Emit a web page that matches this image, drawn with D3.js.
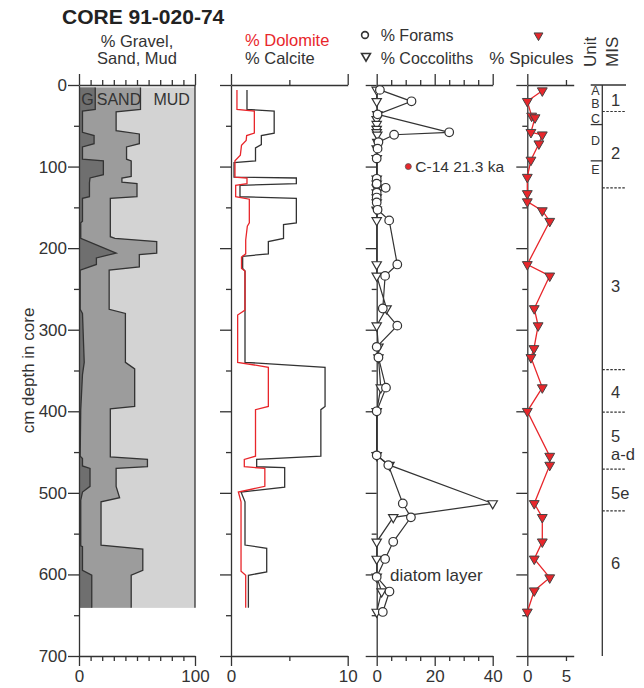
<!DOCTYPE html>
<html>
<head>
<meta charset="utf-8">
<script src="https://cdn.jsdelivr.net/npm/d3@7"></script>
<style>
  body { margin: 0; background: #fff; }
  svg { display: block; font-family: "Liberation Sans", Arial, Helvetica, sans-serif; }
</style>
</head>
<body>
<div id="wrapper"></div>
<script>
// ---- data (depth in cm) ----
const coreInterval = [3, 641]

// grain size: gravel boundary and gravel+sand boundary (cumulative %)
const gravelDepth = [3,30,32,58,62,72,76,91,93,110,114,120,137,139,167,169,188,206,212,220,227,275,280,340,355,398,455,458,467,470,492,499,509,565,566,595,601,641]
const gravelPct = [14,14,3,3,13,13,3,3,21,21,9.5,9,9,3,3,1.5,1.5,32,15,15,1,1,3,4.5,3,1.5,1,3,3,9.5,9.5,3,1.5,1.5,3,3,11,11]
const sandTopDepth = [3,30,33,56,60,72,76,91,93,112,114,119,121,137,139,186,188,192,206,208,223,227,275,280,340,348,394,397,456,459,468,470,492,506,511,564,569,595,601,641]
const gravelSandPct = [53,53,32,32,52,52,41,41,45,45,37,37,50,50,27,27,31,67,67,52,52,26,26,40,40,48,48,27,27,59,59,32,32,35,19,19,55,55,45,45]

// carbonate
const calciteDepth = [6,30,32,59,62,73,77,93,95,113,114,121,123,137,139,169,171,188,192,207,210,225,228,340,346,394,398,455,459,468,469,493,499,511,564,568,597,601,641]
const calcitePct = [1.37,1.37,3.7,3.7,2.6,2.6,2.1,2.1,0.26,0.26,5.6,5.6,0.77,0.77,5.6,5.6,4.5,4.5,3.2,3.2,1.0,1.0,1.2,1.2,8.06,8.06,7.7,7.7,2.2,2.2,4.6,4.6,0.86,1.2,1.2,3.06,3.06,1.49,1.49]
const dolomiteDepth = [6,30,32,59,62,68,74,86,93,113,114,121,123,137,140,169,173,190,207,211,225,228,276,282,340,346,394,398,455,459,468,470,492,499,511,596,601,641]
const dolomitePct = [0.51,0.51,2.0,2.0,1.34,1.3,0.9,0.8,0.34,0.34,1.37,1.37,0.4,0.4,1.57,1.57,1.4,1.26,1.26,0.9,0.9,1.2,1.2,0.57,0.57,3.2,3.2,2.1,2.1,1.14,1.14,2.9,2.9,0.63,0.86,0.86,1.26,1.26]

// forams / coccoliths (null = not plotted)
const microDepth = [6,20,36,42,48,54,58,61,70,78,90,115,121,126,132,138,144,153,166,220,234,274,295,321,334,371,400,454,466,513,530,560,581,603,621,646]
const foramPct = [1.1,12,0.3,null,null,null,25,6,0.6,0.3,0,0,0,3.1,0,0,0,0.3,4.3,7.1,2.9,2.1,7.1,0,0.6,3.2,0,0,4.0,9.0,11.8,5.7,2.9,0,4.4,2.1]
const coccolithPct = [0,0,0.2,0,0,0,0,0.2,0.2,0,0,0,0,0,0,0,0,0,0,0,0,3.4,0,0.6,0.6,1.4,0,0,4.4,40,5.7,0,0,0,1.7,0]

// spicules
const spiculeDepth = [7,20,38,40,58,61,72,92,113,133,143,154,167,220,234,274,295,323,334,371,400,455,466,513,530,560,581,604,620,646]
const spiculePct = [1.94,0,0.56,1.0,0.47,1.94,1.5,0.47,0,0,0,1.94,2.9,0,2.9,0.9,1.4,0.86,0.47,1.94,0,2.9,2.9,0.9,1.94,1.94,0.9,2.9,0.9,0]

// stratigraphy
const unitLabels = ["A","B","C","D","E"]
const unitLabelDepth = [7,23.2,41,68,104]
const unitBounds = [48.5, 93]
const misLabels = ["1","2","3","4","5","a-d","5e","6"]
const misLabelDepth = [19,84,246,376,430,452,500,586]
const misBounds = [32.5,126,349,401,471,522]

// tick labels
const depthMajor = [0,100,200,300,400,500,600,700]
const depthMinor = [50,150,250,350,450,550,650]
const grainMajor = [0,100], grainMinor = [10,20,30,40,50,60,70,80,90]
const carbMajor = [0,10], carbMinor = [5]
const microMajor = [0,20,40], microMinor = [5,10,15,25,30,35]
const spicMajor = [0], spicMinor = [5], spicLabels = [0,5]

const c14 = { depth: 100, value: 10.9, label: "C-14 21.3 ka" }
const diatomNote = { depth: 608, value: 4.6, label: "diatom layer" }

// ---- layout ----
const dimensions = { width: 644, height: 688 }
const ink = "#333"
const red = "#e8262b"

const svg = d3.select("#wrapper").append("svg")
    .attr("width", dimensions.width)
    .attr("height", dimensions.height)

const yScale = d3.scaleLinear().domain([0, 700]).range([85, 656])

const xGrain = d3.scaleLinear().domain([0, 100]).range([79, 195])
const xCarb = d3.scaleLinear().domain([0, 10]).range([231, 347.7])
const xMicro = d3.scaleLinear().domain([0, 40]).range([376.7, 492.7])
const xSpic = d3.scaleLinear().domain([0, 6]).range([527.3, 573.7])

const pts = (depths, vals) => depths.map((d, i) => ({ depth: d, v: vals[i] })).filter(d => d.v != null)

function styleAxis(g) {
    g.attr("font-family", null).attr("font-size", 17).attr("color", ink)
    g.selectAll("line, path").attr("stroke-width", 1.3)
}

function drawAxes(x, majors, minors, labels, yLabels) {
    const x0 = x(0)
    // depth axis
    svg.append("g").attr("transform", `translate(${x0},0)`)
        .call(d3.axisLeft(yScale).tickValues(depthMajor).tickSize(11).tickSizeOuter(0).tickPadding(1)
            .tickFormat(yLabels ? d3.format("d") : ""))
        .call(styleAxis)
    svg.append("g").attr("transform", `translate(${x0},0)`)
        .call(d3.axisLeft(yScale).tickValues(depthMinor).tickSize(5).tickFormat(""))
        .call(styleAxis)
        .call(g => g.select(".domain").remove())
    // top axis
    svg.append("g").attr("transform", `translate(0,${yScale(0)})`)
        .call(d3.axisTop(x).tickValues(majors).tickSize(11).tickSizeOuter(0).tickFormat(""))
        .call(styleAxis)
    svg.append("g").attr("transform", `translate(0,${yScale(0)})`)
        .call(d3.axisTop(x).tickValues(minors).tickSize(5).tickFormat(""))
        .call(styleAxis)
        .call(g => g.select(".domain").remove())
    // bottom axis
    svg.append("g").attr("transform", `translate(0,${yScale(700)})`)
        .call(d3.axisBottom(x).tickValues(majors).tickSize(10).tickSizeOuter(0).tickFormat(""))
        .call(styleAxis)
    svg.append("g").attr("transform", `translate(0,${yScale(700)})`)
        .call(d3.axisBottom(x).tickValues(minors).tickSize(5).tickFormat(""))
        .call(styleAxis)
        .call(g => g.select(".domain").remove())
    svg.append("g").attr("transform", `translate(0,${yScale(700)})`)
        .call(d3.axisBottom(x).tickValues(labels).tickSize(0).tickPadding(14).tickFormat(d3.format("d")))
        .call(styleAxis)
        .call(g => g.select(".domain").remove())
}

// ---- grain size panel ----
svg.append("rect")
    .attr("x", xGrain(0))
    .attr("y", yScale(coreInterval[0]))
    .attr("width", xGrain(100) - xGrain(0))
    .attr("height", yScale(coreInterval[1]) - yScale(coreInterval[0]))
    .attr("fill", "#d3d3d3")

const gravelData = pts(gravelDepth, gravelPct)
const sandData = pts(sandTopDepth, gravelSandPct)
const grainArea = d3.area().y(d => yScale(d.depth)).x0(xGrain(0)).x1(d => xGrain(d.v))
const grainLine = d3.line().y(d => yScale(d.depth)).x(d => xGrain(d.v))

svg.append("path").datum(sandData).attr("d", grainArea).attr("fill", "#9c9c9c")
svg.append("path").datum(gravelData).attr("d", grainArea).attr("fill", "#6f6f6f")
svg.append("path").datum(sandData).attr("d", grainLine).attr("fill", "none").attr("stroke", ink).attr("stroke-width", 1.3)
svg.append("path").datum(gravelData).attr("d", grainLine).attr("fill", "none").attr("stroke", ink).attr("stroke-width", 1.3)
svg.append("line")
    .attr("x1", xGrain(100)).attr("x2", xGrain(100))
    .attr("y1", yScale(0)).attr("y2", yScale(coreInterval[1]))
    .attr("stroke", ink).attr("stroke-width", 1.3)

const grainText = svg.append("g").attr("font-size", 16).attr("fill", ink).attr("text-anchor", "middle")
grainText.append("text").attr("x", 87.5).attr("y", 105).text("G")
grainText.append("text").attr("x", 119).attr("y", 105).text("SAND")
grainText.append("text").attr("x", 171.7).attr("y", 105).text("MUD")

drawAxes(xGrain, grainMajor, grainMinor, grainMajor, true)

// ---- carbonate panel ----
const carbLine = d3.line().y(d => yScale(d.depth)).x(d => xCarb(d.v))
svg.append("path").datum(pts(calciteDepth, calcitePct)).attr("d", carbLine)
    .attr("fill", "none").attr("stroke", ink).attr("stroke-width", 1.3)
svg.append("path").datum(pts(dolomiteDepth, dolomitePct)).attr("d", carbLine)
    .attr("fill", "none").attr("stroke", red).attr("stroke-width", 1.3)
drawAxes(xCarb, carbMajor, carbMinor, carbMajor, false)

// ---- forams / coccoliths panel ----
const foramData = pts(microDepth, foramPct)
const coccoData = pts(microDepth, coccolithPct)
const microLine = d3.line().y(d => yScale(d.depth)).x(d => xMicro(d.v))
drawAxes(xMicro, microMajor, microMinor, microMajor, false)
svg.append("path").datum(coccoData).attr("d", microLine)
    .attr("fill", "none").attr("stroke", ink).attr("stroke-width", 1.2)
svg.append("path").datum(foramData).attr("d", microLine)
    .attr("fill", "none").attr("stroke", ink).attr("stroke-width", 1.2)

const triDown = size => d3.symbol().type(d3.symbolTriangle).size(size)
svg.append("g").selectAll("path")
    .data(coccoData)
    .join("path")
    .attr("d", triDown(38))
    .attr("transform", d => `translate(${xMicro(d.v)},${yScale(d.depth)}) rotate(180)`)
    .attr("fill", "#fff").attr("stroke", ink).attr("stroke-width", 1.2)
svg.append("g").selectAll("circle")
    .data(foramData)
    .join("circle")
    .attr("cx", d => xMicro(d.v))
    .attr("cy", d => yScale(d.depth))
    .attr("r", 4.3)
    .attr("fill", "#fff").attr("stroke", ink).attr("stroke-width", 1.2)

svg.append("circle")
    .attr("cx", xMicro(c14.value)).attr("cy", yScale(c14.depth)).attr("r", 3)
    .attr("fill", red).attr("stroke", "#555").attr("stroke-width", 0.8)
svg.append("text")
    .attr("x", xMicro(c14.value) + 7).attr("y", yScale(c14.depth) + 5.5)
    .attr("font-size", 15.5).attr("fill", ink)
    .text(c14.label)
svg.append("text")
    .attr("x", xMicro(diatomNote.value)).attr("y", yScale(diatomNote.depth))
    .attr("font-size", 17).attr("fill", ink)
    .text(diatomNote.label)

// ---- spicules panel ----
const spicData = pts(spiculeDepth, spiculePct)
drawAxes(xSpic, spicMajor, spicMinor, spicLabels, false)
svg.append("path").datum(spicData)
    .attr("d", d3.line().y(d => yScale(d.depth)).x(d => xSpic(d.v)))
    .attr("fill", "none").attr("stroke", red).attr("stroke-width", 1.3)
svg.append("g").selectAll("path")
    .data(spicData)
    .join("path")
    .attr("d", triDown(42))
    .attr("transform", d => `translate(${xSpic(d.v)},${yScale(d.depth)}) rotate(180)`)
    .attr("fill", red).attr("stroke", "#444").attr("stroke-width", 1)

// ---- unit / MIS column ----
const stratX = 602.3
svg.append("line").attr("x1", stratX).attr("x2", stratX)
    .attr("y1", yScale(0)).attr("y2", yScale(700))
    .attr("stroke", ink).attr("stroke-width", 1.3)
svg.append("line").attr("x1", 590.7).attr("x2", 626)
    .attr("y1", yScale(0)).attr("y2", yScale(0))
    .attr("stroke", ink).attr("stroke-width", 1.3)
svg.append("g").selectAll("line")
    .data(unitBounds)
    .join("line")
    .attr("x1", 590.7).attr("x2", stratX)
    .attr("y1", d => yScale(d)).attr("y2", d => yScale(d))
    .attr("stroke", ink).attr("stroke-width", 1.3)
svg.append("g").selectAll("line")
    .data(misBounds)
    .join("line")
    .attr("x1", stratX).attr("x2", 626)
    .attr("y1", d => yScale(d)).attr("y2", d => yScale(d))
    .attr("stroke", ink).attr("stroke-width", 1.2)
    .attr("stroke-dasharray", "2.5,1.5")
svg.append("g").attr("font-size", 12.5).attr("fill", ink).attr("text-anchor", "middle")
    .selectAll("text")
    .data(unitLabels)
    .join("text")
    .attr("x", 595.5)
    .attr("y", (d, i) => yScale(unitLabelDepth[i]))
    .attr("dy", "0.36em")
    .text(d => d)
svg.append("g").attr("font-size", 16.5).attr("fill", ink)
    .selectAll("text")
    .data(misLabels)
    .join("text")
    .attr("x", 611)
    .attr("y", (d, i) => yScale(misLabelDepth[i]))
    .attr("dy", "0.36em")
    .text(d => d)

// ---- titles and headers ----
svg.append("text").attr("x", 62).attr("y", 24.3)
    .attr("font-size", 21).attr("font-weight", "bold").attr("fill", "#222")
    .text("CORE 91-020-74")

const head = svg.append("g").attr("font-size", 16.5).attr("fill", ink)
head.append("text").attr("x", 137).attr("y", 46.5).attr("text-anchor", "middle").text("% Gravel,")
head.append("text").attr("x", 137).attr("y", 63.8).attr("text-anchor", "middle").text("Sand, Mud")
head.append("text").attr("x", 245).attr("y", 46.3).attr("fill", red).text("% Dolomite")
head.append("text").attr("x", 245).attr("y", 63.8).text("% Calcite")
head.append("text").attr("x", 380.7).attr("y", 40.7).attr("font-size", 16).text("% Forams")
head.append("text").attr("x", 380.7).attr("y", 64).attr("font-size", 16).text("% Coccoliths")
head.append("text").attr("x", 489.3).attr("y", 64).attr("font-size", 17).text("% Spicules")
head.append("text").attr("transform", "translate(595.5,67) rotate(-90)").attr("font-size", 17).text("Unit")
head.append("text").attr("transform", "translate(617.5,67) rotate(-90)").attr("font-size", 17).text("MIS")

svg.append("circle").attr("cx", 365).attr("cy", 35).attr("r", 3.4)
    .attr("fill", "#fff").attr("stroke", ink).attr("stroke-width", 1.6)
svg.append("path").attr("d", triDown(34))
    .attr("transform", "translate(366,56) rotate(180)")
    .attr("fill", "#fff").attr("stroke", ink).attr("stroke-width", 1.6)
svg.append("path").attr("d", triDown(34))
    .attr("transform", "translate(538.5,35.5) rotate(180)")
    .attr("fill", red).attr("stroke", "#444").attr("stroke-width", 1)

svg.append("text")
    .attr("transform", `translate(34,${(yScale(0) + yScale(700)) / 2}) rotate(-90)`)
    .attr("text-anchor", "middle").attr("font-size", 17).attr("fill", ink)
    .text("cm depth in core")
</script>
</body>
</html>
